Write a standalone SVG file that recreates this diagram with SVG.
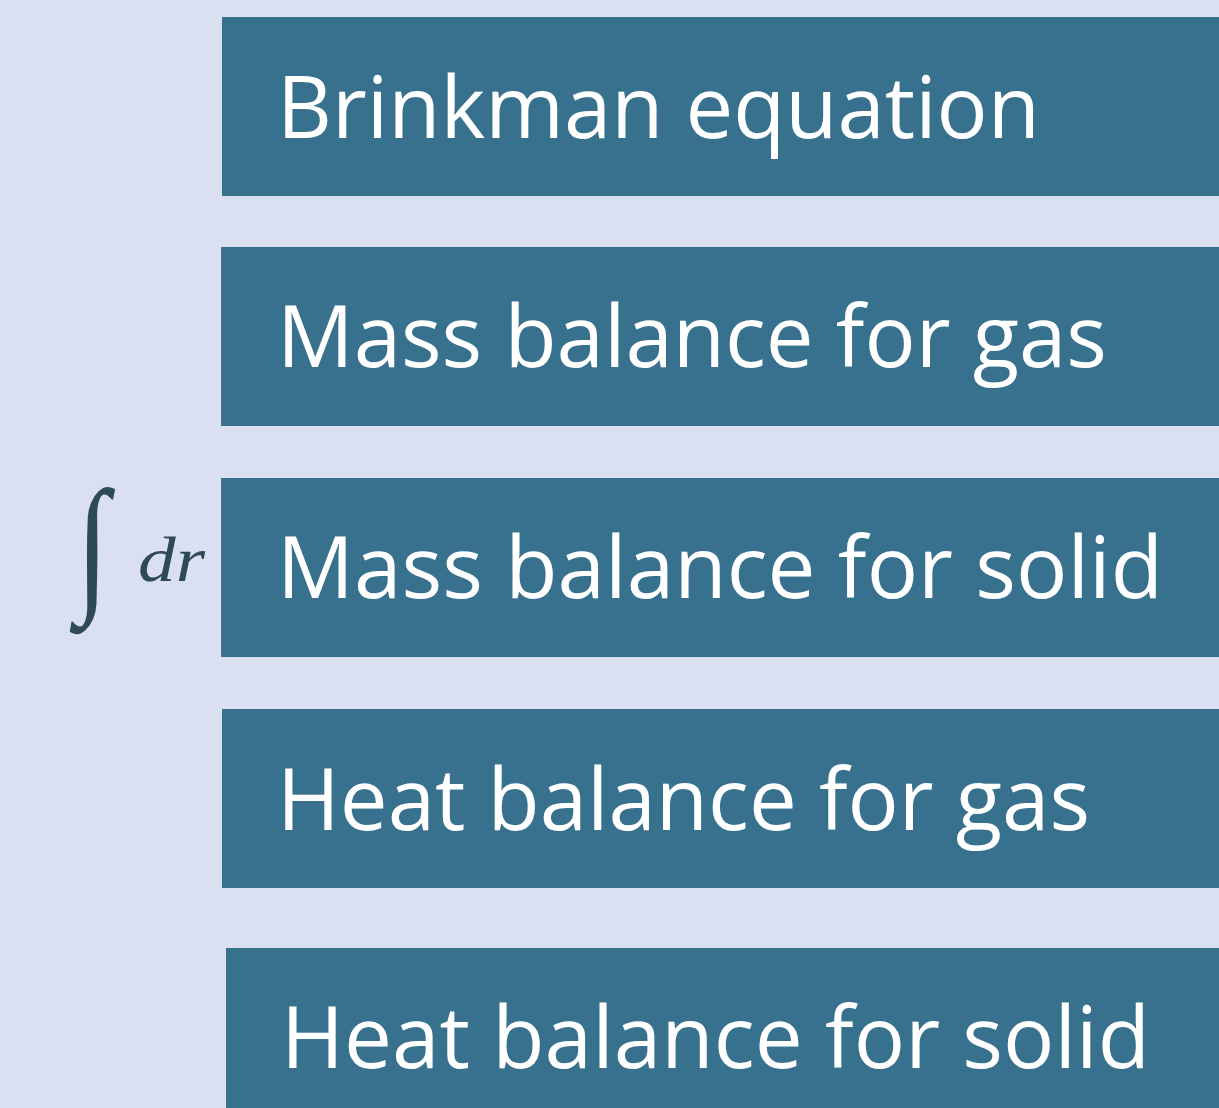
<svg xmlns="http://www.w3.org/2000/svg" width="1219" height="1108" viewBox="0 0 1219 1108">
<style>
.box{fill:#37718E}
.lbl{font-family:"Open Sans","Noto Sans",sans-serif;font-size:86px;fill:#FFFFFF}
.math{font-family:"Liberation Serif","DejaVu Serif",serif;fill:#2E4A57}
</style>
<rect width="1219" height="1108" fill="#DADFF2"/>
<g id="integral">
<text class="math" x="76" y="594" font-size="150" transform="translate(76 0) scale(0.8 1) translate(-76 0)">∫</text>
<text class="math" x="138" y="581" font-size="64" font-style="italic" textLength="67" lengthAdjust="spacingAndGlyphs">dr</text>
</g>
<g id="n1"><rect class="box" x="222" y="17" width="997" height="179"/><text class="lbl" x="277" y="138" textLength="763" lengthAdjust="spacingAndGlyphs">Brinkman equation</text></g>
<g id="n2"><rect class="box" x="221" y="247" width="998" height="179"/><text class="lbl" x="277" y="367" textLength="830" lengthAdjust="spacingAndGlyphs">Mass balance for gas</text></g>
<g id="n3"><rect class="box" x="221" y="478" width="998" height="179"/><text class="lbl" x="277" y="598" textLength="886" lengthAdjust="spacingAndGlyphs">Mass balance for solid</text></g>
<g id="n4"><rect class="box" x="222" y="709" width="997" height="179"/><text class="lbl" x="277" y="830" textLength="813" lengthAdjust="spacingAndGlyphs">Heat balance for gas</text></g>
<g id="n5"><rect class="box" x="226" y="948" width="993" height="160"/><text class="lbl" x="281" y="1068" textLength="869" lengthAdjust="spacingAndGlyphs">Heat balance for solid</text></g>
<g id="connectors"/>
</svg>
